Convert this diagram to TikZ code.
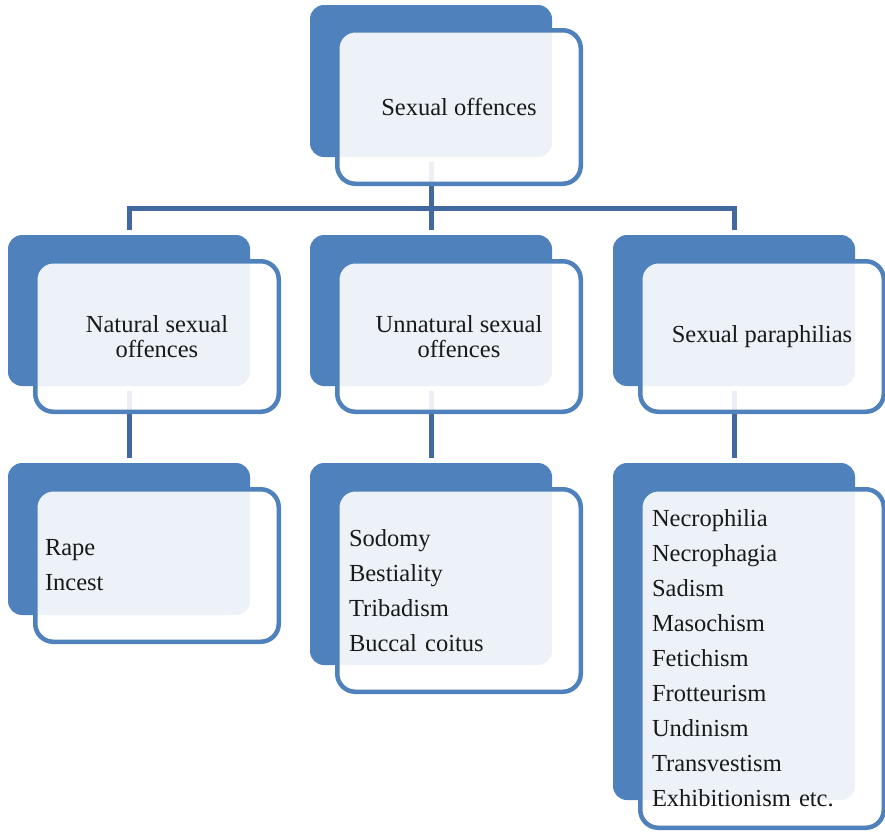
\documentclass[tikz,border=0pt]{standalone}
\usepackage{fontspec}
\setmainfont{Liberation Serif}
\definecolor{accent}{HTML}{4F81BD}
\definecolor{conncol}{HTML}{41699F}
\begin{document}
\begin{tikzpicture}[x=1pt,y=-1pt,
  backbox/.style={fill=accent, rounded corners=14pt, inner sep=0pt, outer sep=0pt, anchor=north west, minimum width=242pt},
  frontbox/.style={draw=accent, line width=4.5pt, fill=white, fill opacity=0.9, text opacity=1, text=black!90, rounded corners=18pt, inner sep=0pt, outer sep=0pt, anchor=north west, minimum width=243.5pt},
  headtext/.style={align=center, font=\fontsize{24.5}{25.5}\selectfont},
  listtext/.style={align=left, font=\fontsize{24.5}{35}\selectfont},
  conn/.style={draw=conncol, line width=5pt, line join=miter},
]
\useasboundingbox (0,0) rectangle (885,833);

% back boxes
\node[backbox, minimum height=152pt] (tb) at (310,5) {};
\node[backbox, minimum height=151pt] (lb) at (8,235) {};
\node[backbox, minimum height=151pt] (mb) at (310,235) {};
\node[backbox, minimum height=151pt] (rb) at (613,235) {};
\node[backbox, minimum height=152pt] (llb) at (8,463) {};
\node[backbox, minimum height=202pt] (mlb) at (310,463) {};
\node[backbox, minimum height=337pt] (rlb) at (613,463) {};

% connectors
\coordinate (busy) at (0,208.5);
\draw[conn, shorten <=5pt] (tb.south) -- (tb.south |- busy);
\draw[conn, shorten <=5pt, shorten >=5pt] (lb.north) |- (mb.north |- busy) -| (rb.north);
\draw[conn, shorten <=5pt] (mb.north) -- (mb.north |- busy);
\draw[conn, shorten <=5pt, shorten >=5pt] (lb.south) -- (llb.north);
\draw[conn, shorten <=5pt, shorten >=5pt] (mb.south) -- (mlb.north);
\draw[conn, shorten <=5pt, shorten >=5pt] (rb.south) -- (rlb.north);

% front boxes
\node[frontbox, headtext, minimum height=153.5pt] (tf) at (337.25,30.25) {Sexual offences};
\node[frontbox, headtext, minimum height=150.5pt] (lf) at (35.25,261.25) {Natural sexual\\offences};
\node[frontbox, headtext, minimum height=150.5pt] (mf) at (337.25,261.25) {Unnatural sexual\\offences};
\node[frontbox, headtext, minimum height=150.5pt] (rf) at (640.25,261.25) {Sexual paraphilias};
\node[frontbox, listtext, text width=224pt, minimum height=152.5pt] (llf) at (35.25,489.25) {Rape\\Incest};
\node[frontbox, listtext, text width=220pt, minimum height=202.5pt] (mlf) at (337.25,489.25) {Sodomy\\Bestiality\\Tribadism\\Buccal coitus};
\node[frontbox, listtext, text width=220pt, minimum height=338.5pt] (rlf) at (640.25,489.25) {Necrophilia\\Necrophagia\\Sadism\\Masochism\\Fetichism\\Frotteurism\\Undinism\\Transvestism\\Exhibitionism etc.};
\end{tikzpicture}
\end{document}
